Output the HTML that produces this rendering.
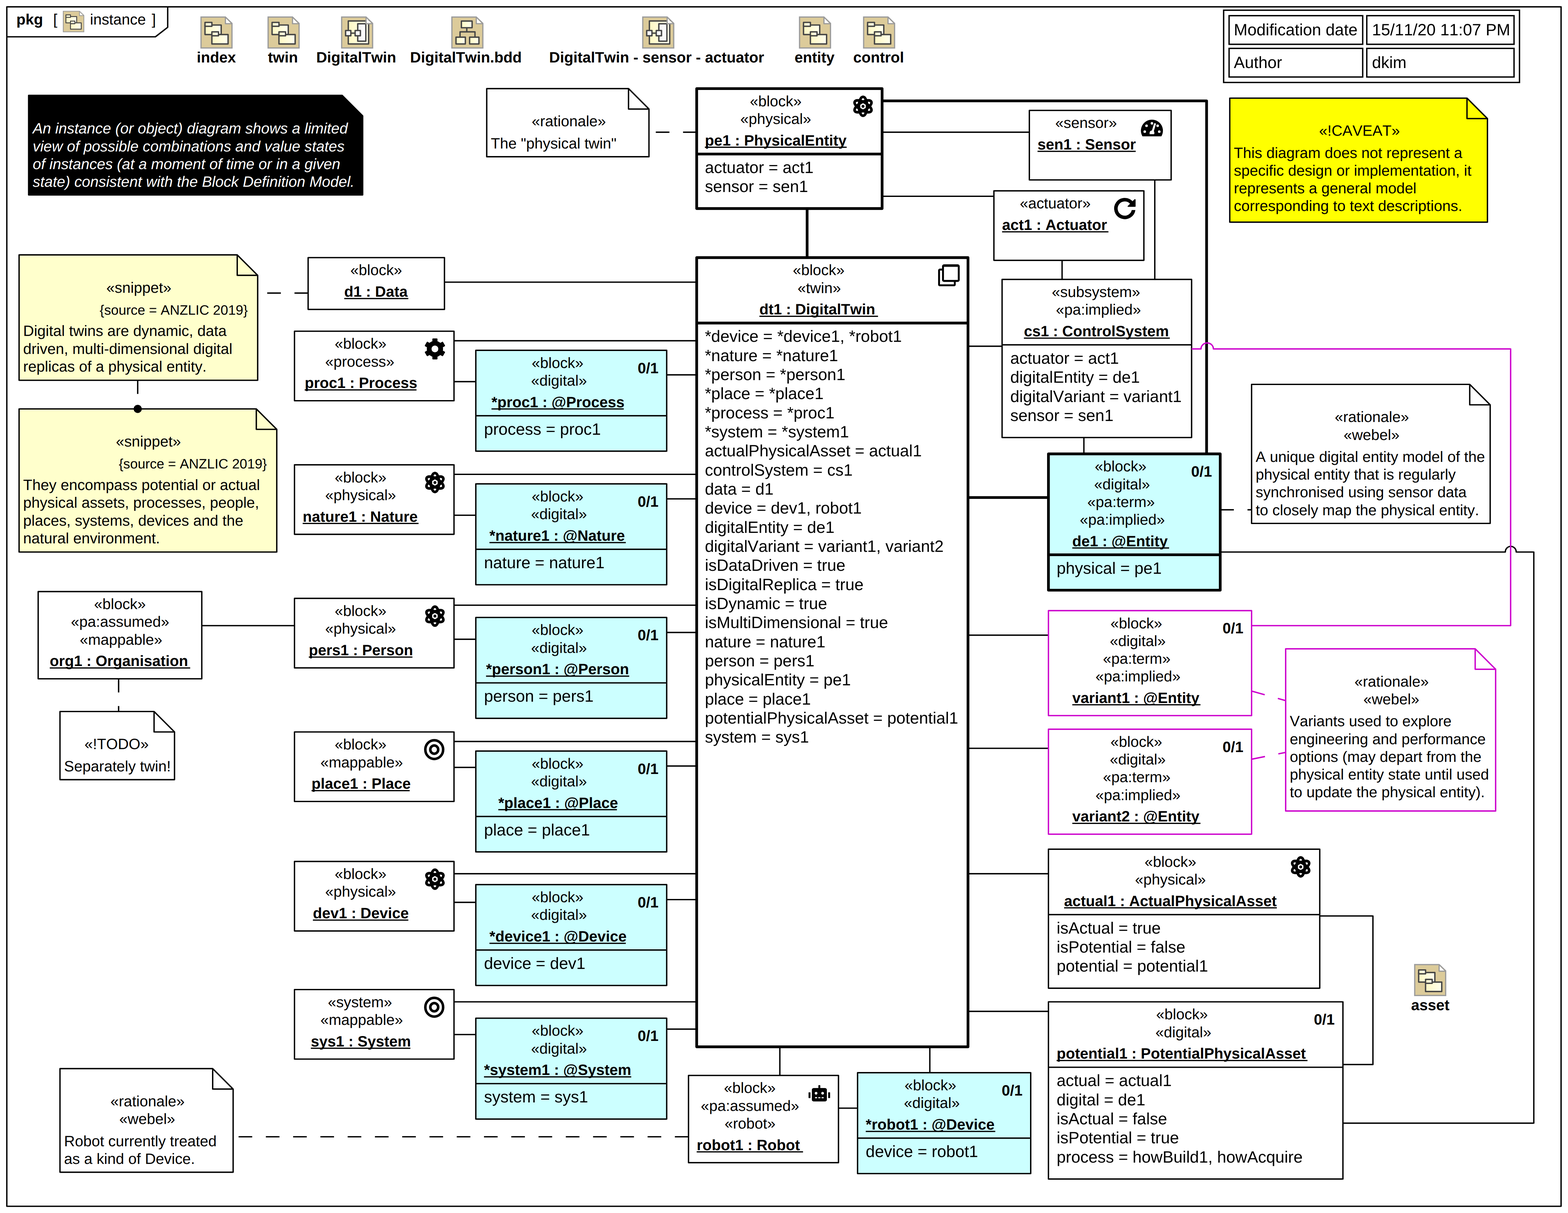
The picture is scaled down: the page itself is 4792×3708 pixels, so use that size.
<!DOCTYPE html>
<html lang="en"><head><meta charset="utf-8"><title>instance - DigitalTwin object diagram</title>
<style>
html,body{margin:0;padding:0;background:#fff}
svg{display:block}
text{fill:#000;stroke:none;font-kerning:none;text-rendering:geometricPrecision;font-family:"Liberation Sans",sans-serif;white-space:pre}
</style></head><body>
<svg width="4792" height="3708" viewBox="0 0 1150.08 889.92" font-size="11" fill="#000" stroke="none">
<defs>
<linearGradient id="gy" x1="0" y1="0" x2="1" y2="0"><stop offset="0" stop-color="#fff8c4"/><stop offset="1" stop-color="#ffffee"/></linearGradient>
<linearGradient id="gw" x1="0" y1="0" x2="1" y2="0"><stop offset="0" stop-color="#f2f2f2"/><stop offset="1" stop-color="#fdfdfd"/></linearGradient>
</defs>
<rect x="0" y="0" width="1151" height="890" fill="#fff"/>
<g stroke="#000" fill="none" stroke-width="1" stroke-linejoin="round">
<rect x="5" y="5" width="1140" height="880"/>
<path d="M5 27H114L123 20V5"/>
<text x="12" y="18" font-weight="bold">pkg</text>
<text x="39" y="18">[</text>
<g transform="translate(46.1 7.95) scale(0.665)"><path d="M0.45 0.45H18.35L23.15 5.1V23.15H0.45Z" fill="#dccb9a" stroke="#9b9b9b" stroke-width="0.9" stroke-linejoin="miter"/><path d="M18.35 0.9V5.32H22.9" fill="none" stroke="#9b9b9b" stroke-width="0.9"/><path d="M18.8 1.55L22.1 4.87H18.8Z" fill="#fff" stroke="none"/><g stroke="#444" stroke-width="1" fill="url(#gy)"><rect x="3.36" y="6.3" width="11.87" height="6.99"/><rect x="3.36" y="4.39" width="5.05" height="2.86"/><rect x="8.41" y="13.29" width="11.87" height="6.92"/><rect x="8.41" y="11.31" width="4.84" height="2.9"/></g></g>
<text x="66" y="18">instance</text>
<text x="111.3" y="18">]</text>
<g transform="translate(147 12.05)"><path d="M0.45 0.45H18.35L23.15 5.1V23.15H0.45Z" fill="#dccb9a" stroke="#9b9b9b" stroke-width="0.9" stroke-linejoin="miter"/><path d="M18.35 0.9V5.32H22.9" fill="none" stroke="#9b9b9b" stroke-width="0.9"/><path d="M18.8 1.55L22.1 4.87H18.8Z" fill="#fff" stroke="none"/><g stroke="#444" stroke-width="1" fill="url(#gy)"><rect x="3.36" y="6.3" width="11.87" height="6.99"/><rect x="3.36" y="4.39" width="5.05" height="2.86"/><rect x="8.41" y="13.29" width="11.87" height="6.92"/><rect x="8.41" y="11.31" width="4.84" height="2.9"/></g></g>
<text x="144.3" y="45.9" font-weight="bold">index</text>
<g transform="translate(196.2 12.05)"><path d="M0.45 0.45H18.35L23.15 5.1V23.15H0.45Z" fill="#dccb9a" stroke="#9b9b9b" stroke-width="0.9" stroke-linejoin="miter"/><path d="M18.35 0.9V5.32H22.9" fill="none" stroke="#9b9b9b" stroke-width="0.9"/><path d="M18.8 1.55L22.1 4.87H18.8Z" fill="#fff" stroke="none"/><g stroke="#444" stroke-width="1" fill="url(#gy)"><rect x="3.36" y="6.3" width="11.87" height="6.99"/><rect x="3.36" y="4.39" width="5.05" height="2.86"/><rect x="8.41" y="13.29" width="11.87" height="6.92"/><rect x="8.41" y="11.31" width="4.84" height="2.9"/></g></g>
<text x="196.5" y="45.9" font-weight="bold">twin</text>
<g transform="translate(250.15 12.05)"><path d="M0.45 0.45H18.35L23.15 5.1V23.15H0.45Z" fill="#dccb9a" stroke="#9b9b9b" stroke-width="0.9" stroke-linejoin="miter"/><g stroke="#444" stroke-width="1" fill="url(#gy)"><rect x="5.31" y="3.33" width="14.9" height="16.88"/><rect x="12.23" y="5.37" width="5.94" height="12.8" fill="url(#gw)"/><path d="M7.19 12.27H10.32" fill="none"/><rect x="3.33" y="10.32" width="3.86" height="3.89" fill="url(#gw)"/><rect x="10.32" y="10.32" width="3.86" height="3.89" fill="url(#gw)"/></g><path d="M18.35 0.9V5.32H22.9" fill="none" stroke="#9b9b9b" stroke-width="0.9"/><path d="M18.8 1.55L22.1 4.87H18.8Z" fill="#fff" stroke="none"/></g>
<text x="231.95" y="45.9" font-weight="bold">DigitalTwin</text>
<g transform="translate(331 12.05)"><path d="M0.45 0.45H18.35L23.15 5.1V23.15H0.45Z" fill="#dccb9a" stroke="#9b9b9b" stroke-width="0.9" stroke-linejoin="miter"/><g stroke="#444" stroke-width="1" fill="url(#gy)"><path d="M11.37 8.28V11.31M6.43 15.2V11.31H17.38V15.2" fill="none"/><rect x="7.42" y="3.4" width="7.85" height="4.88"/><rect x="3.46" y="15.2" width="6.86" height="5.01"/><rect x="13.45" y="15.2" width="6.83" height="5.01"/></g><path d="M18.35 0.9V5.32H22.9" fill="none" stroke="#9b9b9b" stroke-width="0.9"/><path d="M18.8 1.55L22.1 4.87H18.8Z" fill="#fff" stroke="none"/></g>
<text x="300.8" y="45.9" font-weight="bold">DigitalTwin.bdd</text>
<g transform="translate(471 12.05)"><path d="M0.45 0.45H18.35L23.15 5.1V23.15H0.45Z" fill="#dccb9a" stroke="#9b9b9b" stroke-width="0.9" stroke-linejoin="miter"/><g stroke="#444" stroke-width="1" fill="url(#gy)"><rect x="5.31" y="3.33" width="14.9" height="16.88"/><rect x="12.23" y="5.37" width="5.94" height="12.8" fill="url(#gw)"/><path d="M7.19 12.27H10.32" fill="none"/><rect x="3.33" y="10.32" width="3.86" height="3.89" fill="url(#gw)"/><rect x="10.32" y="10.32" width="3.86" height="3.89" fill="url(#gw)"/></g><path d="M18.35 0.9V5.32H22.9" fill="none" stroke="#9b9b9b" stroke-width="0.9"/><path d="M18.8 1.55L22.1 4.87H18.8Z" fill="#fff" stroke="none"/></g>
<text x="402.8" y="45.9" font-weight="bold">DigitalTwin - sensor - actuator</text>
<g transform="translate(586 12.05)"><path d="M0.45 0.45H18.35L23.15 5.1V23.15H0.45Z" fill="#dccb9a" stroke="#9b9b9b" stroke-width="0.9" stroke-linejoin="miter"/><path d="M18.35 0.9V5.32H22.9" fill="none" stroke="#9b9b9b" stroke-width="0.9"/><path d="M18.8 1.55L22.1 4.87H18.8Z" fill="#fff" stroke="none"/><g stroke="#444" stroke-width="1" fill="url(#gy)"><rect x="3.36" y="6.3" width="11.87" height="6.99"/><rect x="3.36" y="4.39" width="5.05" height="2.86"/><rect x="8.41" y="13.29" width="11.87" height="6.92"/><rect x="8.41" y="11.31" width="4.84" height="2.9"/></g></g>
<text x="582.8" y="45.9" font-weight="bold">entity</text>
<g transform="translate(633 12.05)"><path d="M0.45 0.45H18.35L23.15 5.1V23.15H0.45Z" fill="#dccb9a" stroke="#9b9b9b" stroke-width="0.9" stroke-linejoin="miter"/><path d="M18.35 0.9V5.32H22.9" fill="none" stroke="#9b9b9b" stroke-width="0.9"/><path d="M18.8 1.55L22.1 4.87H18.8Z" fill="#fff" stroke="none"/><g stroke="#444" stroke-width="1" fill="url(#gy)"><rect x="3.36" y="6.3" width="11.87" height="6.99"/><rect x="3.36" y="4.39" width="5.05" height="2.86"/><rect x="8.41" y="13.29" width="11.87" height="6.92"/><rect x="8.41" y="11.31" width="4.84" height="2.9"/></g></g>
<text x="625.8" y="45.9" font-weight="bold">control</text>
<g transform="translate(1037.2 707.2)"><path d="M0.45 0.45H18.35L23.15 5.1V23.15H0.45Z" fill="#dccb9a" stroke="#9b9b9b" stroke-width="0.9" stroke-linejoin="miter"/><path d="M18.35 0.9V5.32H22.9" fill="none" stroke="#9b9b9b" stroke-width="0.9"/><path d="M18.8 1.55L22.1 4.87H18.8Z" fill="#fff" stroke="none"/><g stroke="#444" stroke-width="1" fill="url(#gy)"><rect x="3.36" y="6.3" width="11.87" height="6.99"/><rect x="3.36" y="4.39" width="5.05" height="2.86"/><rect x="8.41" y="13.29" width="11.87" height="6.92"/><rect x="8.41" y="11.31" width="4.84" height="2.9"/></g></g>
<text x="1035" y="741" font-weight="bold">asset</text>
<rect x="897.5" y="7.5" width="217" height="53" stroke-linejoin="miter"/>
<rect x="901.5" y="11.5" width="98.0" height="21.0" stroke-linejoin="miter"/>
<rect x="1002.5" y="11.5" width="108.0" height="21.0" stroke-linejoin="miter"/>
<rect x="901.5" y="35.5" width="98.0" height="21.0" stroke-linejoin="miter"/>
<rect x="1002.5" y="35.5" width="108.0" height="21.0" stroke-linejoin="miter"/>
<text x="905" y="25.95" font-size="12">Modification date</text>
<text x="1006.3" y="25.95" font-size="12">15/11/20 11:07 PM</text>
<text x="905" y="49.9" font-size="12">Author</text>
<text x="1006.3" y="49.9" font-size="12">dkim</text>
<path d="M647 74H885V333" stroke-width="2"/>
<path d="M592 153L592 189" stroke-width="2"/>
<path d="M710 365L769 365" stroke-width="2"/>
<path d="M647 97L755 97"/>
<path d="M647 144L729 144"/>
<path d="M847 132L847 205"/>
<path d="M779 191L779 205"/>
<path d="M326 207L511 207"/>
<path d="M333 250L511 250"/>
<path d="M333 280L349 280"/>
<path d="M489 275L511 275"/>
<path d="M333 348L511 348"/>
<path d="M333 378L349 378"/>
<path d="M489 366L511 366"/>
<path d="M333 444L511 444"/>
<path d="M333 469L349 469"/>
<path d="M489 464L511 464"/>
<path d="M333 544L511 544"/>
<path d="M333 563L349 563"/>
<path d="M489 562L511 562"/>
<path d="M333 641L511 641"/>
<path d="M333 662L349 662"/>
<path d="M489 660L511 660"/>
<path d="M333 735L511 735"/>
<path d="M333 759L349 759"/>
<path d="M489 755L511 755"/>
<path d="M148 459L216 459"/>
<path d="M710 254L735 254"/>
<path d="M795 321L795 333"/>
<path d="M710 466L769 466"/>
<path d="M710 549L769 549"/>
<path d="M710 641L769 641"/>
<path d="M710 742L769 742"/>
<path d="M572 768L572 789"/>
<path d="M682 768L682 787"/>
<path d="M615 813L629 813"/>
<path d="M968 672H1007V781H985"/>
<path d="M895 405H1104.1A4 4.15 0 0 1 1112.1 405H1125V824H985"/>
<path d="M918 507L943 514" stroke="#cc00cc" stroke-dasharray="10 10"/>
<path d="M918 557L943 552" stroke="#cc00cc" stroke-dasharray="10 10"/>
<path d="M511 97L476 97" stroke-dasharray="10 10"/>
<path d="M226 215L189 215" stroke-dasharray="10 10"/>
<path d="M101 279L101 300" stroke-dasharray="10 10"/>
<path d="M87 498L87 522" stroke-dasharray="10 10"/>
<path d="M895 374L918 374" stroke-dasharray="10 10"/>
<path d="M505 834L171 834" stroke-dasharray="10 10"/>
<path d="M21 70H251L266 85V143H21Z" fill="#000"/>
<path d="M251 70V85H266" fill="none"/>
<text x="24" y="98" font-style="italic" style="fill:#fff">An instance (or object) diagram shows a limited</text>
<text x="24" y="111" font-style="italic" style="fill:#fff">view of possible combinations and value states</text>
<text x="24" y="124" font-style="italic" style="fill:#fff">of instances (at a moment of time or in a given</text>
<text x="24" y="137" font-style="italic" style="fill:#fff">state) consistent with the Block Definition Model.</text>
<path d="M14 187H174L189 202V279H14Z" fill="#ffffcc"/>
<path d="M174 187V202H189" fill="none"/>
<text x="78" y="214.7">«snippet»</text>
<text x="73.12" y="230.8" font-size="10">{source = ANZLIC 2019}</text>
<text x="17" y="246.6">Digital twins are dynamic, data</text>
<text x="17" y="259.6">driven, multi-dimensional digital</text>
<text x="17" y="272.6">replicas of a physical entity.</text>
<path d="M14 300H188L203 315V405H14Z" fill="#ffffcc"/>
<path d="M188 300V315H203" fill="none"/>
<text x="85" y="327.7">«snippet»</text>
<text x="87.12" y="343.8" font-size="10">{source = ANZLIC 2019}</text>
<text x="17" y="359.6">They encompass potential or actual</text>
<text x="17" y="372.6">physical assets, processes, people,</text>
<text x="17" y="385.6">places, systems, devices and the</text>
<text x="17" y="398.6">natural environment.</text>
<path d="M44 522H113L128 537V572H44Z" fill="#fff"/>
<path d="M113 522V537H128" fill="none"/>
<text x="62" y="549.7">«!TODO»</text>
<text x="47" y="565.9">Separately twin!</text>
<path d="M357 65H461L476 80V115H357Z" fill="#fff"/>
<path d="M461 65V80H476" fill="none"/>
<text x="390" y="92.7">«rationale»</text>
<text x="360" y="108.9">The "physical twin"</text>
<path d="M902 72H1076L1091 87V163H902Z" fill="#ffff00"/>
<path d="M1076 72V87H1091" fill="none"/>
<text x="967.5" y="99.7">«!CAVEAT»</text>
<text x="905" y="115.9">This diagram does not represent a</text>
<text x="905" y="128.9">specific design or implementation, it</text>
<text x="905" y="141.9">represents a general model</text>
<text x="905" y="154.9">corresponding to text descriptions.</text>
<path d="M918 282H1078L1093 297V384H918Z" fill="#fff"/>
<path d="M1078 282V297H1093" fill="none"/>
<text x="979" y="309.7">«rationale»</text>
<text x="985.5" y="322.7">«webel»</text>
<text x="921" y="338.9">A unique digital entity model of the</text>
<text x="921" y="351.9">physical entity that is regularly</text>
<text x="921" y="364.9">synchronised using sensor data</text>
<text x="921" y="377.9">to closely map the physical entity.</text>
<path d="M943 476H1082L1097 491V595H943Z" fill="#fff" stroke="#cc00cc"/>
<path d="M1082 476V491H1097" fill="none" stroke="#cc00cc"/>
<text x="993.5" y="503.7">«rationale»</text>
<text x="1000" y="516.7">«webel»</text>
<text x="946" y="532.9">Variants used to explore</text>
<text x="946" y="545.9">engineering and performance</text>
<text x="946" y="558.9">options (may depart from the</text>
<text x="946" y="571.9">physical entity state until used</text>
<text x="946" y="584.9">to update the physical entity).</text>
<path d="M44 784H156L171 799V860H44Z" fill="#fff"/>
<path d="M156 784V799H171" fill="none"/>
<text x="81" y="811.7">«rationale»</text>
<text x="87.5" y="824.7">«webel»</text>
<text x="47" y="840.9">Robot currently treated</text>
<text x="47" y="853.9">as a kind of Device.</text>
<rect x="511" y="65" width="136" height="88" fill="#fff" stroke-width="2"/>
<text x="550" y="77.95">«block»</text>
<text x="543" y="90.95">«physical»</text>
<text x="517.00" y="106.75" font-weight="bold">pe1 : PhysicalEntity</text>
<path d="M517.00 108.05h104.00" stroke-width="0.9"/>
<path d="M511 113L647 113" stroke-width="2"/>
<text x="517" y="126.85" font-size="12">actuator = act1</text>
<text x="517" y="140.85" font-size="12">sensor = sen1</text>
<g transform="translate(625 70)" fill="none" stroke="#000" stroke-width="1.94"><ellipse cx="8" cy="8" rx="3.0" ry="6.95" transform="rotate(0 8 8)"/><ellipse cx="8" cy="8" rx="3.0" ry="6.95" transform="rotate(60 8 8)"/><ellipse cx="8" cy="8" rx="3.0" ry="6.95" transform="rotate(-60 8 8)"/><circle cx="8" cy="8" r="1.08" fill="#000" stroke="none"/></g>
<rect x="755" y="81" width="104" height="51" fill="#fff"/>
<text x="774" y="93.95">«sensor»</text>
<text x="761.00" y="109.75" font-weight="bold">sen1 : Sensor</text>
<path d="M761.00 111.05h72.00" stroke-width="0.9"/>
<g transform="translate(837 86)" stroke="none"><path d="M0.96 14.0A8.08 8.08 0 1 1 14.84 14.0Z" fill="#000"/><circle cx="7.90" cy="4.47" r="0.93" fill="#fff"/><circle cx="3.95" cy="6.27" r="0.93" fill="#fff"/><circle cx="12.10" cy="6.27" r="0.93" fill="#fff"/><circle cx="2.63" cy="10.59" r="0.93" fill="#fff"/><circle cx="13.29" cy="10.59" r="0.93" fill="#fff"/><path d="M6.20 12.43V11.36Q6.30 9.96 7.90 9.71L9.45 4.76Q10.20 3.76 10.85 4.96L9.30 10.16Q9.75 10.76 9.70 11.86Q9.70 12.43 9.30 12.43Z" fill="#fff"/></g>
<rect x="729" y="140" width="110" height="51" fill="#fff"/>
<text x="748" y="152.95">«actuator»</text>
<text x="735.00" y="168.75" font-weight="bold">act1 : Actuator</text>
<path d="M735.00 170.05h78.00" stroke-width="0.9"/>
<g transform="translate(817 145)"><path d="M13.14 3.99A6.52 6.52 0 1 0 14.50 8.45" fill="none" stroke="#000" stroke-width="2.6"/><path d="M12.6 6.9H16.3V9.1H12.6Z" fill="#fff" stroke="none"/><path d="M15.25 1.49H15.6V6.4H10.35Z" fill="#000" stroke="#000" stroke-width="0.64" stroke-linejoin="round"/></g>
<rect x="226" y="189" width="100" height="38" fill="#fff"/>
<text x="257" y="201.95">«block»</text>
<text x="252.50" y="217.75" font-weight="bold">d1 : Data</text>
<path d="M252.50 219.05h47.00" stroke-width="0.9"/>
<rect x="511" y="189" width="199" height="579" fill="#fff" stroke-width="2"/>
<text x="581.5" y="201.95">«block»</text>
<text x="585" y="214.95">«twin»</text>
<text x="557.00" y="230.75" font-weight="bold">dt1 : DigitalTwin</text>
<path d="M557.00 232.05h87.00" stroke-width="0.9"/>
<path d="M511 237L710 237" stroke-width="2"/>
<text x="517" y="250.85" font-size="12">*device = *device1, *robot1</text>
<text x="517" y="264.85" font-size="12">*nature = *nature1</text>
<text x="517" y="278.85" font-size="12">*person = *person1</text>
<text x="517" y="292.85" font-size="12">*place = *place1</text>
<text x="517" y="306.85" font-size="12">*process = *proc1</text>
<text x="517" y="320.85" font-size="12">*system = *system1</text>
<text x="517" y="334.85" font-size="12">actualPhysicalAsset = actual1</text>
<text x="517" y="348.85" font-size="12">controlSystem = cs1</text>
<text x="517" y="362.85" font-size="12">data = d1</text>
<text x="517" y="376.85" font-size="12">device = dev1, robot1</text>
<text x="517" y="390.85" font-size="12">digitalEntity = de1</text>
<text x="517" y="404.85" font-size="12">digitalVariant = variant1, variant2</text>
<text x="517" y="418.85" font-size="12">isDataDriven = true</text>
<text x="517" y="432.85" font-size="12">isDigitalReplica = true</text>
<text x="517" y="446.85" font-size="12">isDynamic = true</text>
<text x="517" y="460.85" font-size="12">isMultiDimensional = true</text>
<text x="517" y="474.85" font-size="12">nature = nature1</text>
<text x="517" y="488.85" font-size="12">person = pers1</text>
<text x="517" y="502.85" font-size="12">physicalEntity = pe1</text>
<text x="517" y="516.85" font-size="12">place = place1</text>
<text x="517" y="530.85" font-size="12">potentialPhysicalAsset = potential1</text>
<text x="517" y="544.85" font-size="12">system = sys1</text>
<g transform="translate(688 194)" fill="none" stroke="#000" stroke-width="1.4" stroke-linejoin="round"><path d="M3.66 3.75H1.5Q0.77 3.75 0.77 4.5V14.6Q0.77 15.3 1.5 15.3H11.6Q12.3 15.3 12.3 14.6V12.1"/><rect x="3.66" y="0.6" width="11.55" height="11.5" rx="0.75"/><path d="M3.66 1.55H15.2" stroke-width="0.5"/></g>
<rect x="735" y="205" width="139" height="116" fill="#fff"/>
<text x="771.5" y="217.95">«subsystem»</text>
<text x="774.5" y="230.95">«pa:implied»</text>
<text x="751.00" y="246.75" font-weight="bold">cs1 : ControlSystem</text>
<path d="M751.00 248.05h107.00" stroke-width="0.9"/>
<path d="M735 253L874 253"/>
<text x="741" y="266.85" font-size="12">actuator = act1</text>
<text x="741" y="280.85" font-size="12">digitalEntity = de1</text>
<text x="741" y="294.85" font-size="12">digitalVariant = variant1</text>
<text x="741" y="308.85" font-size="12">sensor = sen1</text>
<rect x="769" y="333" width="126" height="100" fill="#ccffff" stroke-width="2"/>
<text x="803" y="345.95">«block»</text>
<text x="802.5" y="358.95">«digital»</text>
<text x="797.5" y="371.95">«pa:term»</text>
<text x="792" y="384.95">«pa:implied»</text>
<text x="786.50" y="400.75" font-weight="bold">de1 : @Entity</text>
<path d="M786.50 402.05h71.00" stroke-width="0.9"/>
<path d="M769 407L895 407" stroke-width="2"/>
<text x="775" y="420.85" font-size="12">physical = pe1</text>
<text x="873.7" y="349.75" font-weight="bold">0/1</text>
<rect x="769" y="448" width="149" height="77" fill="#fff" stroke="#cc00cc"/>
<text x="814.5" y="460.95">«block»</text>
<text x="814" y="473.95">«digital»</text>
<text x="809" y="486.95">«pa:term»</text>
<text x="803.5" y="499.95">«pa:implied»</text>
<text x="786.50" y="515.75" font-weight="bold">variant1 : @Entity</text>
<path d="M786.50 517.05h94.00" stroke-width="0.9"/>
<text x="896.7" y="464.75" font-weight="bold">0/1</text>
<rect x="769" y="535" width="149" height="77" fill="#fff" stroke="#cc00cc"/>
<text x="814.5" y="547.95">«block»</text>
<text x="814" y="560.95">«digital»</text>
<text x="809" y="573.95">«pa:term»</text>
<text x="803.5" y="586.95">«pa:implied»</text>
<text x="786.50" y="602.75" font-weight="bold">variant2 : @Entity</text>
<path d="M786.50 604.05h94.00" stroke-width="0.9"/>
<text x="896.7" y="551.75" font-weight="bold">0/1</text>
<rect x="769" y="623" width="199" height="102" fill="#fff"/>
<text x="839.5" y="635.95">«block»</text>
<text x="832.5" y="648.95">«physical»</text>
<text x="780.50" y="664.75" font-weight="bold">actual1 : ActualPhysicalAsset</text>
<path d="M780.50 666.05h156.00" stroke-width="0.9"/>
<path d="M769 671L968 671"/>
<text x="775" y="684.85" font-size="12">isActual = true</text>
<text x="775" y="698.85" font-size="12">isPotential = false</text>
<text x="775" y="712.85" font-size="12">potential = potential1</text>
<g transform="translate(946 628)" fill="none" stroke="#000" stroke-width="1.94"><ellipse cx="8" cy="8" rx="3.0" ry="6.95" transform="rotate(0 8 8)"/><ellipse cx="8" cy="8" rx="3.0" ry="6.95" transform="rotate(60 8 8)"/><ellipse cx="8" cy="8" rx="3.0" ry="6.95" transform="rotate(-60 8 8)"/><circle cx="8" cy="8" r="1.08" fill="#000" stroke="none"/></g>
<rect x="769" y="735" width="216" height="130" fill="#fff"/>
<text x="848" y="747.95">«block»</text>
<text x="847.5" y="760.95">«digital»</text>
<text x="775.00" y="776.75" font-weight="bold">potential1 : PotentialPhysicalAsset</text>
<path d="M775.00 778.05h184.00" stroke-width="0.9"/>
<path d="M769 783L985 783"/>
<text x="775" y="796.85" font-size="12">actual = actual1</text>
<text x="775" y="810.85" font-size="12">digital = de1</text>
<text x="775" y="824.85" font-size="12">isActual = false</text>
<text x="775" y="838.85" font-size="12">isPotential = true</text>
<text x="775" y="852.85" font-size="12">process = howBuild1, howAcquire</text>
<text x="963.7" y="751.75" font-weight="bold">0/1</text>
<rect x="505" y="789" width="110" height="64" fill="#fff"/>
<text x="531" y="801.95">«block»</text>
<text x="514" y="814.95">«pa:assumed»</text>
<text x="531.5" y="827.95">«robot»</text>
<text x="511.00" y="843.75" font-weight="bold">robot1 : Robot</text>
<path d="M511.00 845.05h78.00" stroke-width="0.9"/>
<g transform="translate(593 794)" stroke="none" fill="#000"><rect x="2.46" y="4.25" width="11.03" height="9.81" rx="1.3"/><rect x="7.25" y="2.07" width="1.42" height="3" rx="0.4"/><rect x="0.04" y="7.33" width="1.43" height="4.31" rx="0.3"/><rect x="14.44" y="7.33" width="1.43" height="4.31" rx="0.3"/><circle cx="5.56" cy="8.04" r="1" fill="#fff"/><circle cx="10.36" cy="8.04" r="1" fill="#fff"/><path d="M4.8 10.92h1.52v0.8h-1.52zM7.21 10.92h1.52v0.8h-1.52zM9.62 10.92h1.5v0.8h-1.5z" fill="#fff"/></g>
<rect x="629" y="787" width="127" height="74" fill="#ccffff"/>
<text x="663.5" y="799.95">«block»</text>
<text x="663" y="812.95">«digital»</text>
<text x="635.00" y="828.75" font-weight="bold">*robot1 : @Device</text>
<path d="M635.00 830.05h95.00" stroke-width="0.9"/>
<path d="M629 835L756 835"/>
<text x="635" y="848.85" font-size="12">device = robot1</text>
<text x="734.7" y="803.75" font-weight="bold">0/1</text>
<rect x="28" y="434" width="120" height="64" fill="#fff"/>
<text x="69" y="446.95">«block»</text>
<text x="52" y="459.95">«pa:assumed»</text>
<text x="58.5" y="472.95">«mappable»</text>
<text x="36.50" y="488.75" font-weight="bold">org1 : Organisation</text>
<path d="M36.50 490.05h103.00" stroke-width="0.9"/>
<rect x="216" y="243" width="117" height="51" fill="#fff"/>
<text x="245.5" y="255.95">«block»</text>
<text x="238.5" y="268.95">«process»</text>
<text x="223.50" y="284.75" font-weight="bold">proc1 : Process</text>
<path d="M223.50 286.05h82.00" stroke-width="0.9"/>
<g transform="translate(311 248)" fill="#000" stroke="none"><circle cx="8" cy="8" r="5.97"/><rect x="6.12" y="0.3" width="3.76" height="15.4" rx="0.5" transform="rotate(0 8 8)"/><rect x="6.12" y="0.3" width="3.76" height="15.4" rx="0.5" transform="rotate(60 8 8)"/><rect x="6.12" y="0.3" width="3.76" height="15.4" rx="0.5" transform="rotate(120 8 8)"/><circle cx="8" cy="8" r="2.48" fill="#fff"/></g>
<rect x="216" y="341" width="117" height="51" fill="#fff"/>
<text x="245.5" y="353.95">«block»</text>
<text x="238.5" y="366.95">«physical»</text>
<text x="222.00" y="382.75" font-weight="bold">nature1 : Nature</text>
<path d="M222.00 384.05h85.00" stroke-width="0.9"/>
<g transform="translate(311 346)" fill="none" stroke="#000" stroke-width="1.94"><ellipse cx="8" cy="8" rx="3.0" ry="6.95" transform="rotate(0 8 8)"/><ellipse cx="8" cy="8" rx="3.0" ry="6.95" transform="rotate(60 8 8)"/><ellipse cx="8" cy="8" rx="3.0" ry="6.95" transform="rotate(-60 8 8)"/><circle cx="8" cy="8" r="1.08" fill="#000" stroke="none"/></g>
<rect x="216" y="439" width="117" height="51" fill="#fff"/>
<text x="245.5" y="451.95">«block»</text>
<text x="238.5" y="464.95">«physical»</text>
<text x="226.50" y="480.75" font-weight="bold">pers1 : Person</text>
<path d="M226.50 482.05h76.00" stroke-width="0.9"/>
<g transform="translate(311 444)" fill="none" stroke="#000" stroke-width="1.94"><ellipse cx="8" cy="8" rx="3.0" ry="6.95" transform="rotate(0 8 8)"/><ellipse cx="8" cy="8" rx="3.0" ry="6.95" transform="rotate(60 8 8)"/><ellipse cx="8" cy="8" rx="3.0" ry="6.95" transform="rotate(-60 8 8)"/><circle cx="8" cy="8" r="1.08" fill="#000" stroke="none"/></g>
<rect x="216" y="537" width="117" height="51" fill="#fff"/>
<text x="245.5" y="549.95">«block»</text>
<text x="235" y="562.95">«mappable»</text>
<text x="228.50" y="578.75" font-weight="bold">place1 : Place</text>
<path d="M228.50 580.05h72.00" stroke-width="0.9"/>
<g transform="translate(311 542)" fill="none" stroke="#000"><ellipse cx="7.5" cy="7.95" rx="6.53" ry="6.86" stroke-width="1.86"/><ellipse cx="7.5" cy="7.95" rx="2.89" ry="3.02" stroke-width="1.88"/></g>
<rect x="216" y="632" width="117" height="51" fill="#fff"/>
<text x="245.5" y="644.95">«block»</text>
<text x="238.5" y="657.95">«physical»</text>
<text x="229.50" y="673.75" font-weight="bold">dev1 : Device</text>
<path d="M229.50 675.05h70.00" stroke-width="0.9"/>
<g transform="translate(311 637)" fill="none" stroke="#000" stroke-width="1.94"><ellipse cx="8" cy="8" rx="3.0" ry="6.95" transform="rotate(0 8 8)"/><ellipse cx="8" cy="8" rx="3.0" ry="6.95" transform="rotate(60 8 8)"/><ellipse cx="8" cy="8" rx="3.0" ry="6.95" transform="rotate(-60 8 8)"/><circle cx="8" cy="8" r="1.08" fill="#000" stroke="none"/></g>
<rect x="216" y="726" width="117" height="51" fill="#fff"/>
<text x="240.5" y="738.95">«system»</text>
<text x="235" y="751.95">«mappable»</text>
<text x="228.00" y="767.75" font-weight="bold">sys1 : System</text>
<path d="M228.00 769.05h73.00" stroke-width="0.9"/>
<g transform="translate(311 731)" fill="none" stroke="#000"><ellipse cx="7.5" cy="7.95" rx="6.53" ry="6.86" stroke-width="1.86"/><ellipse cx="7.5" cy="7.95" rx="2.89" ry="3.02" stroke-width="1.88"/></g>
<rect x="349" y="257" width="140" height="74" fill="#ccffff"/>
<text x="390" y="269.95">«block»</text>
<text x="389.5" y="282.95">«digital»</text>
<text x="360.50" y="298.75" font-weight="bold">*proc1 : @Process</text>
<path d="M360.50 300.05h97.00" stroke-width="0.9"/>
<path d="M349 305L489 305"/>
<text x="355" y="318.85" font-size="12">process = proc1</text>
<text x="467.7" y="273.75" font-weight="bold">0/1</text>
<rect x="349" y="355" width="140" height="74" fill="#ccffff"/>
<text x="390" y="367.95">«block»</text>
<text x="389.5" y="380.95">«digital»</text>
<text x="359.00" y="396.75" font-weight="bold">*nature1 : @Nature</text>
<path d="M359.00 398.05h100.00" stroke-width="0.9"/>
<path d="M349 403L489 403"/>
<text x="355" y="416.85" font-size="12">nature = nature1</text>
<text x="467.7" y="371.75" font-weight="bold">0/1</text>
<rect x="349" y="453" width="140" height="74" fill="#ccffff"/>
<text x="390" y="465.95">«block»</text>
<text x="389.5" y="478.95">«digital»</text>
<text x="356.50" y="494.75" font-weight="bold">*person1 : @Person</text>
<path d="M356.50 496.05h105.00" stroke-width="0.9"/>
<path d="M349 501L489 501"/>
<text x="355" y="514.85" font-size="12">person = pers1</text>
<text x="467.7" y="469.75" font-weight="bold">0/1</text>
<rect x="349" y="551" width="140" height="74" fill="#ccffff"/>
<text x="390" y="563.95">«block»</text>
<text x="389.5" y="576.95">«digital»</text>
<text x="365.50" y="592.75" font-weight="bold">*place1 : @Place</text>
<path d="M365.50 594.05h87.00" stroke-width="0.9"/>
<path d="M349 599L489 599"/>
<text x="355" y="612.85" font-size="12">place = place1</text>
<text x="467.7" y="567.75" font-weight="bold">0/1</text>
<rect x="349" y="649" width="140" height="74" fill="#ccffff"/>
<text x="390" y="661.95">«block»</text>
<text x="389.5" y="674.95">«digital»</text>
<text x="359.00" y="690.75" font-weight="bold">*device1 : @Device</text>
<path d="M359.00 692.05h100.00" stroke-width="0.9"/>
<path d="M349 697L489 697"/>
<text x="355" y="710.85" font-size="12">device = dev1</text>
<text x="467.7" y="665.75" font-weight="bold">0/1</text>
<rect x="349" y="747" width="140" height="74" fill="#ccffff"/>
<text x="390" y="759.95">«block»</text>
<text x="389.5" y="772.95">«digital»</text>
<text x="355.00" y="788.75" font-weight="bold">*system1 : @System</text>
<path d="M355.00 790.05h108.00" stroke-width="0.9"/>
<path d="M349 795L489 795"/>
<text x="355" y="808.85" font-size="12">system = sys1</text>
<text x="467.7" y="763.75" font-weight="bold">0/1</text>
<circle cx="101" cy="300" r="3" fill="#000" stroke="none"/>
<path d="M874 256H880.9A4.55 4.4 0 0 1 890 256H1108V459H918" stroke="#cc00cc"/>
</g>
</svg>
</body></html>
